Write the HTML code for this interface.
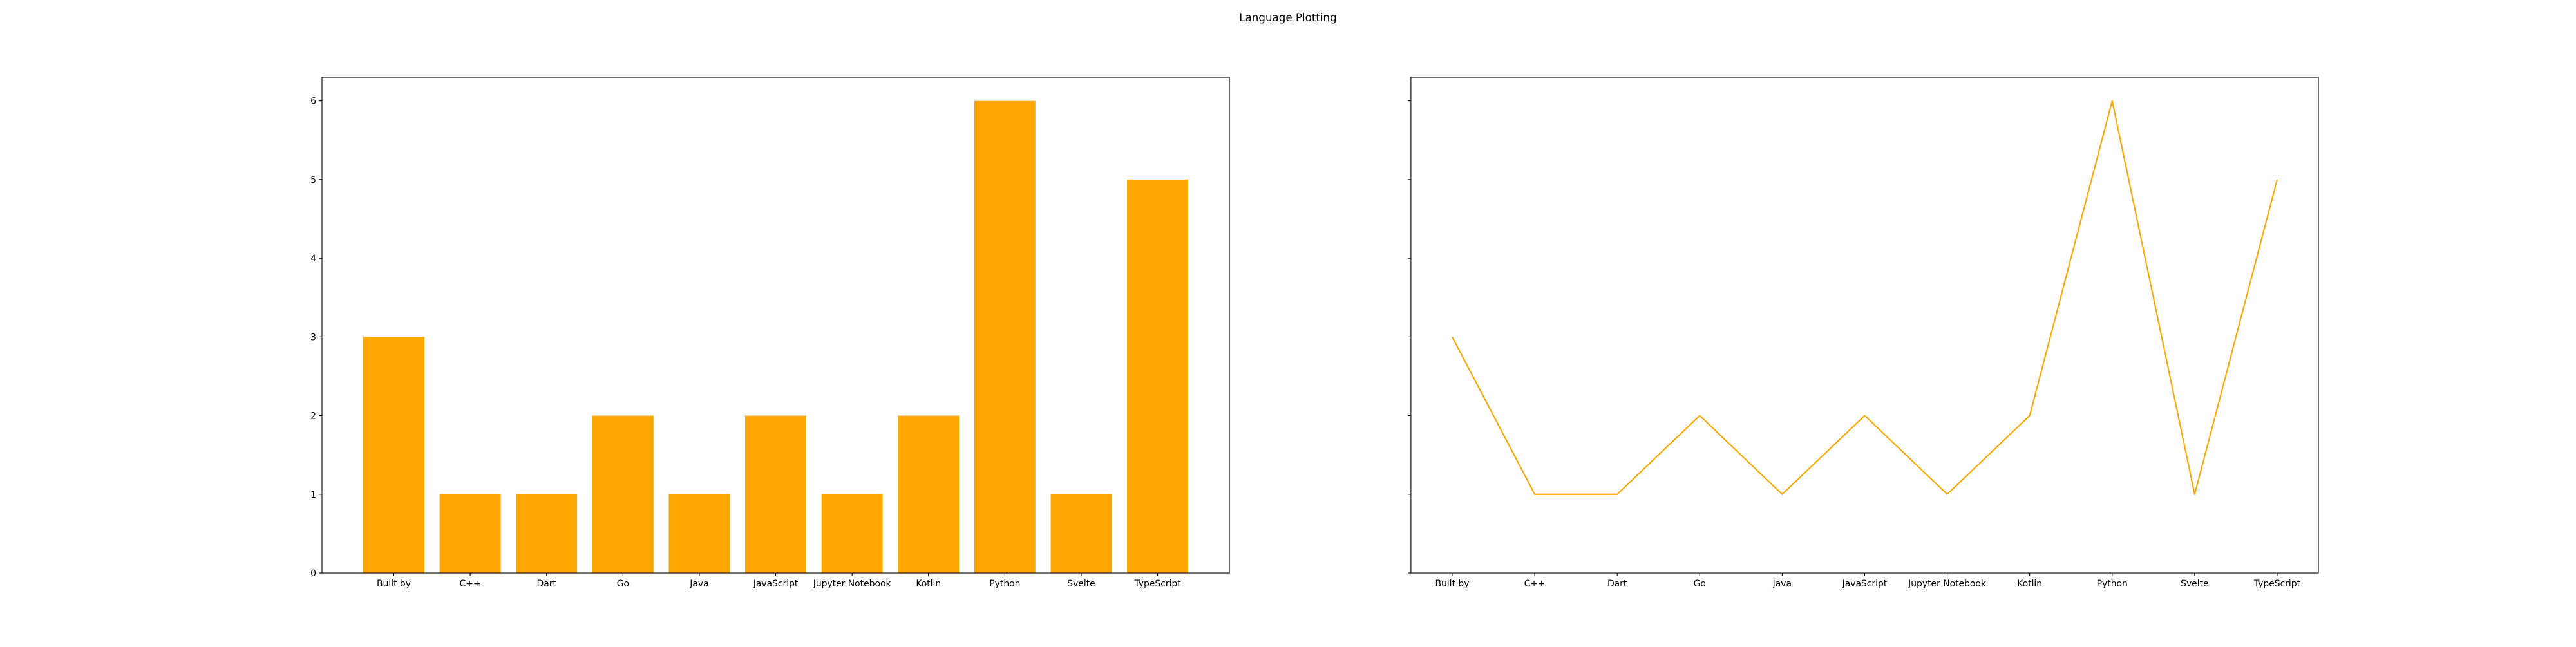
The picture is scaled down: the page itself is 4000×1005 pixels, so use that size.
<!DOCTYPE html>
<html><head><meta charset="utf-8"><style>
body{margin:0;background:#fff}
svg text{font-family:"DejaVu Sans","Liberation Sans",sans-serif;font-size:13.9px;fill:#000}
</style></head><body>
<svg id="chart" width="4000" height="1000" xmlns="http://www.w3.org/2000/svg">
<rect width="4000" height="1000" fill="#fff"/>
<text x="2000" y="33" text-anchor="middle" style="font-size:16.7px">Language Plotting</text>
</svg>
<script>
const categories=["Built by","C++","Dart","Go","Java","JavaScript","Jupyter Notebook","Kotlin","Python","Svelte","TypeScript"];
const counts=[3,1,1,2,1,2,1,2,6,1,5];
const yTicks=[0,1,2,3,4,5,6];
const NS="http://www.w3.org/2000/svg";
const svgEl=document.getElementById('chart');
function mk(t,a){const e=document.createElementNS(NS,t);for(const k in a)e.setAttribute(k,a[k]);svgEl.appendChild(e);return e;}
const plotTop=120,plotBot=890,ymax=6.3;
function yS(v){return plotBot-(v/ymax)*(plotBot-plotTop);}
const axW=3100/2.2;
const ax1={l:500,r:500+axW,x0:-0.94,x1:10.94};
const ax2={l:500+1.2*axW,r:3600,x0:-0.5,x1:10.5};
function xS(ax,v){return ax.l+(v-ax.x0)/(ax.x1-ax.x0)*(ax.r-ax.l);}
counts.forEach((v,i)=>{
  const x0=xS(ax1,i-0.4),x1=xS(ax1,i+0.4);
  const r=mk('rect',{x:x0,y:yS(v),width:x1-x0,height:plotBot-yS(v),fill:'#FFA500'});
  
  
});
const pts=counts.map((v,i)=>xS(ax2,i)+','+yS(v)).join(' ');
const pl=mk('polyline',{points:pts,fill:'none',stroke:'#FFA500','stroke-width':2.1,'stroke-linejoin':'round'});


[ax1,ax2].forEach((ax,k)=>{
  const fr=mk('rect',{x:ax.l,y:plotTop,width:ax.r-ax.l,height:plotBot-plotTop,fill:'none',stroke:'#000','stroke-width':1.1});
  
  
  yTicks.forEach(t=>{
    mk('line',{x1:ax.l-4.9,x2:ax.l,y1:yS(t),y2:yS(t),stroke:'#000','stroke-width':1.1});
    if(k===0){const tx=mk('text',{x:ax.l-9,y:yS(t)+5,'text-anchor':'end'});tx.textContent=t;
      
      }
  });
  categories.forEach((c,i)=>{
    const x=xS(ax,i);
    mk('line',{x1:x,x2:x,y1:plotBot,y2:plotBot+4.9,stroke:'#000','stroke-width':1.1});
    const tx=mk('text',{x:x,y:plotBot+21,'text-anchor':'middle'});tx.textContent=c;
    
    
  });
});
</script>
</body></html>
